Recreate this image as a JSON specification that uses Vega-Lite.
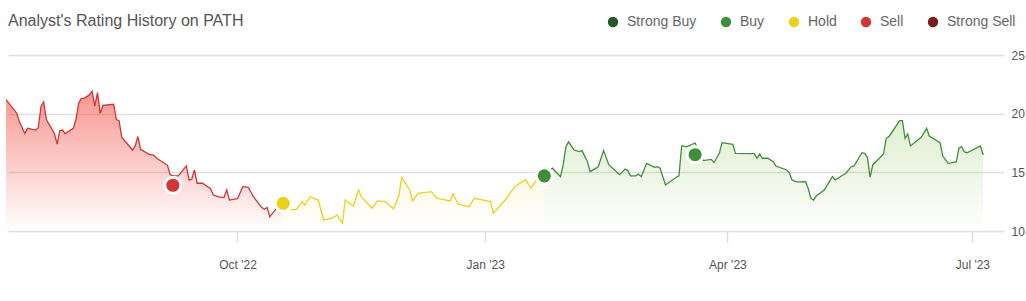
{
  "$schema": "https://vega.github.io/schema/vega-lite/v6.json",
  "width": 996,
  "height": 176,
  "autosize": {"type": "none"},
  "padding": {"left": 8, "top": 55, "right": 22, "bottom": 70},
  "background": "white",
  "title": {
    "text": "Analyst's Rating History on PATH",
    "anchor": "start",
    "frame": "group",
    "font": "Liberation Sans",
    "fontSize": 16,
    "fontWeight": "normal",
    "color": "#555555",
    "baseline": "alphabetic",
    "offset": 5,
    "dy": 32
  },
  "config": {
    "view": {"stroke": null},
    "font": "Liberation Sans"
  },
  "datasets": {
    "price": [
      {"d": "2022-07-07", "p": 21.2, "r": "Sell"},
      {"d": "2022-07-11", "p": 20.04, "r": "Sell"},
      {"d": "2022-07-12", "p": 19.3, "r": "Sell"},
      {"d": "2022-07-13", "p": 18.8, "r": "Sell"},
      {"d": "2022-07-14", "p": 18.3, "r": "Sell"},
      {"d": "2022-07-15", "p": 18.75, "r": "Sell"},
      {"d": "2022-07-18", "p": 18.6, "r": "Sell"},
      {"d": "2022-07-19", "p": 18.8, "r": "Sell"},
      {"d": "2022-07-20", "p": 20.6, "r": "Sell"},
      {"d": "2022-07-21", "p": 21.0, "r": "Sell"},
      {"d": "2022-07-22", "p": 19.5, "r": "Sell"},
      {"d": "2022-07-25", "p": 18.3, "r": "Sell"},
      {"d": "2022-07-26", "p": 17.4, "r": "Sell"},
      {"d": "2022-07-27", "p": 18.55, "r": "Sell"},
      {"d": "2022-07-28", "p": 18.6, "r": "Sell"},
      {"d": "2022-07-29", "p": 18.3, "r": "Sell"},
      {"d": "2022-08-01", "p": 18.75, "r": "Sell"},
      {"d": "2022-08-02", "p": 19.5, "r": "Sell"},
      {"d": "2022-08-03", "p": 20.9, "r": "Sell"},
      {"d": "2022-08-04", "p": 21.3, "r": "Sell"},
      {"d": "2022-08-05", "p": 21.3, "r": "Sell"},
      {"d": "2022-08-07", "p": 21.6, "r": "Sell"},
      {"d": "2022-08-08", "p": 21.9, "r": "Sell"},
      {"d": "2022-08-09", "p": 20.65, "r": "Sell"},
      {"d": "2022-08-10", "p": 21.8, "r": "Sell"},
      {"d": "2022-08-11", "p": 20.03, "r": "Sell"},
      {"d": "2022-08-12", "p": 20.7, "r": "Sell"},
      {"d": "2022-08-16", "p": 20.8, "r": "Sell"},
      {"d": "2022-08-17", "p": 19.5, "r": "Sell"},
      {"d": "2022-08-18", "p": 19.4, "r": "Sell"},
      {"d": "2022-08-19", "p": 18.0, "r": "Sell"},
      {"d": "2022-08-23", "p": 16.9, "r": "Sell"},
      {"d": "2022-08-24", "p": 17.25, "r": "Sell"},
      {"d": "2022-08-25", "p": 18.05, "r": "Sell"},
      {"d": "2022-08-26", "p": 16.97, "r": "Sell"},
      {"d": "2022-08-29", "p": 16.56, "r": "Sell"},
      {"d": "2022-08-31", "p": 16.45, "r": "Sell"},
      {"d": "2022-09-01", "p": 16.2, "r": "Sell"},
      {"d": "2022-09-05", "p": 15.6, "r": "Sell"},
      {"d": "2022-09-06", "p": 14.8, "r": "Sell"},
      {"d": "2022-09-07", "p": 14.7, "r": "Sell"},
      {"d": "2022-09-09", "p": 14.7, "r": "Sell"},
      {"d": "2022-09-12", "p": 15.55, "r": "Sell"},
      {"d": "2022-09-13", "p": 14.35, "r": "Sell"},
      {"d": "2022-09-14", "p": 14.4, "r": "Sell"},
      {"d": "2022-09-15", "p": 15.2, "r": "Sell"},
      {"d": "2022-09-16", "p": 14.07, "r": "Sell"},
      {"d": "2022-09-18", "p": 14.07, "r": "Sell"},
      {"d": "2022-09-21", "p": 13.6, "r": "Sell"},
      {"d": "2022-09-22", "p": 13.07, "r": "Sell"},
      {"d": "2022-09-24", "p": 12.9, "r": "Sell"},
      {"d": "2022-09-26", "p": 12.85, "r": "Sell"},
      {"d": "2022-09-27", "p": 13.5, "r": "Sell"},
      {"d": "2022-09-28", "p": 12.64, "r": "Sell"},
      {"d": "2022-10-01", "p": 12.75, "r": "Sell"},
      {"d": "2022-10-03", "p": 13.78, "r": "Sell"},
      {"d": "2022-10-05", "p": 13.73, "r": "Sell"},
      {"d": "2022-10-07", "p": 12.9, "r": "Sell"},
      {"d": "2022-10-10", "p": 12.0, "r": "Sell"},
      {"d": "2022-10-11", "p": 11.85, "r": "Sell"},
      {"d": "2022-10-12", "p": 12.0, "r": "Sell"},
      {"d": "2022-10-13", "p": 11.2, "r": "Sell"},
      {"d": "2022-10-15", "p": 11.8, "r": "Sell"},
      {"d": "2022-10-18", "p": 12.36, "r": "Sell"},
      {"d": "2022-10-18", "p": 12.36, "r": "Hold"},
      {"d": "2022-10-21", "p": 11.8, "r": "Hold"},
      {"d": "2022-10-23", "p": 11.85, "r": "Hold"},
      {"d": "2022-10-25", "p": 12.5, "r": "Hold"},
      {"d": "2022-10-26", "p": 12.2, "r": "Hold"},
      {"d": "2022-10-28", "p": 12.92, "r": "Hold"},
      {"d": "2022-10-31", "p": 12.64, "r": "Hold"},
      {"d": "2022-11-02", "p": 10.94, "r": "Hold"},
      {"d": "2022-11-05", "p": 11.08, "r": "Hold"},
      {"d": "2022-11-07", "p": 11.36, "r": "Hold"},
      {"d": "2022-11-09", "p": 10.66, "r": "Hold"},
      {"d": "2022-11-10", "p": 12.64, "r": "Hold"},
      {"d": "2022-11-13", "p": 12.13, "r": "Hold"},
      {"d": "2022-11-15", "p": 13.5, "r": "Hold"},
      {"d": "2022-11-16", "p": 12.92, "r": "Hold"},
      {"d": "2022-11-20", "p": 11.94, "r": "Hold"},
      {"d": "2022-11-22", "p": 12.56, "r": "Hold"},
      {"d": "2022-11-25", "p": 12.5, "r": "Hold"},
      {"d": "2022-11-28", "p": 11.88, "r": "Hold"},
      {"d": "2022-11-30", "p": 13.07, "r": "Hold"},
      {"d": "2022-12-01", "p": 14.58, "r": "Hold"},
      {"d": "2022-12-04", "p": 13.5, "r": "Hold"},
      {"d": "2022-12-05", "p": 12.56, "r": "Hold"},
      {"d": "2022-12-07", "p": 13.2, "r": "Hold"},
      {"d": "2022-12-12", "p": 13.35, "r": "Hold"},
      {"d": "2022-12-14", "p": 12.79, "r": "Hold"},
      {"d": "2022-12-19", "p": 12.56, "r": "Hold"},
      {"d": "2022-12-20", "p": 13.15, "r": "Hold"},
      {"d": "2022-12-22", "p": 12.3, "r": "Hold"},
      {"d": "2022-12-26", "p": 12.07, "r": "Hold"},
      {"d": "2022-12-28", "p": 12.79, "r": "Hold"},
      {"d": "2023-01-03", "p": 12.5, "r": "Hold"},
      {"d": "2023-01-04", "p": 11.5, "r": "Hold"},
      {"d": "2023-01-09", "p": 12.79, "r": "Hold"},
      {"d": "2023-01-12", "p": 13.78, "r": "Hold"},
      {"d": "2023-01-16", "p": 14.4, "r": "Hold"},
      {"d": "2023-01-18", "p": 13.64, "r": "Hold"},
      {"d": "2023-01-20", "p": 14.35, "r": "Hold"},
      {"d": "2023-01-23", "p": 14.7, "r": "Hold"},
      {"d": "2023-01-23", "p": 14.7, "r": "Buy"},
      {"d": "2023-01-26", "p": 15.35, "r": "Buy"},
      {"d": "2023-01-29", "p": 14.63, "r": "Buy"},
      {"d": "2023-01-30", "p": 15.63, "r": "Buy"},
      {"d": "2023-01-31", "p": 17.19, "r": "Buy"},
      {"d": "2023-02-01", "p": 17.6, "r": "Buy"},
      {"d": "2023-02-03", "p": 16.9, "r": "Buy"},
      {"d": "2023-02-05", "p": 16.76, "r": "Buy"},
      {"d": "2023-02-06", "p": 16.85, "r": "Buy"},
      {"d": "2023-02-08", "p": 15.9, "r": "Buy"},
      {"d": "2023-02-09", "p": 15.06, "r": "Buy"},
      {"d": "2023-02-12", "p": 15.48, "r": "Buy"},
      {"d": "2023-02-14", "p": 16.85, "r": "Buy"},
      {"d": "2023-02-16", "p": 15.63, "r": "Buy"},
      {"d": "2023-02-20", "p": 14.8, "r": "Buy"},
      {"d": "2023-02-22", "p": 15.27, "r": "Buy"},
      {"d": "2023-02-23", "p": 15.15, "r": "Buy"},
      {"d": "2023-02-24", "p": 14.7, "r": "Buy"},
      {"d": "2023-02-26", "p": 14.7, "r": "Buy"},
      {"d": "2023-02-27", "p": 14.85, "r": "Buy"},
      {"d": "2023-02-28", "p": 14.63, "r": "Buy"},
      {"d": "2023-03-02", "p": 15.77, "r": "Buy"},
      {"d": "2023-03-05", "p": 15.43, "r": "Buy"},
      {"d": "2023-03-06", "p": 15.48, "r": "Buy"},
      {"d": "2023-03-07", "p": 15.35, "r": "Buy"},
      {"d": "2023-03-09", "p": 13.92, "r": "Buy"},
      {"d": "2023-03-13", "p": 14.58, "r": "Buy"},
      {"d": "2023-03-14", "p": 14.7, "r": "Buy"},
      {"d": "2023-03-15", "p": 17.25, "r": "Buy"},
      {"d": "2023-03-17", "p": 17.19, "r": "Buy"},
      {"d": "2023-03-20", "p": 17.5, "r": "Buy"},
      {"d": "2023-03-23", "p": 16.0, "r": "Buy"},
      {"d": "2023-03-26", "p": 16.1, "r": "Buy"},
      {"d": "2023-03-27", "p": 15.82, "r": "Buy"},
      {"d": "2023-03-29", "p": 16.62, "r": "Buy"},
      {"d": "2023-03-30", "p": 17.53, "r": "Buy"},
      {"d": "2023-04-03", "p": 17.39, "r": "Buy"},
      {"d": "2023-04-04", "p": 16.62, "r": "Buy"},
      {"d": "2023-04-11", "p": 16.6, "r": "Buy"},
      {"d": "2023-04-12", "p": 16.2, "r": "Buy"},
      {"d": "2023-04-13", "p": 16.56, "r": "Buy"},
      {"d": "2023-04-14", "p": 16.2, "r": "Buy"},
      {"d": "2023-04-16", "p": 16.2, "r": "Buy"},
      {"d": "2023-04-18", "p": 15.9, "r": "Buy"},
      {"d": "2023-04-19", "p": 15.54, "r": "Buy"},
      {"d": "2023-04-23", "p": 15.2, "r": "Buy"},
      {"d": "2023-04-24", "p": 14.97, "r": "Buy"},
      {"d": "2023-04-25", "p": 14.35, "r": "Buy"},
      {"d": "2023-04-26", "p": 14.26, "r": "Buy"},
      {"d": "2023-04-27", "p": 14.18, "r": "Buy"},
      {"d": "2023-04-30", "p": 14.2, "r": "Buy"},
      {"d": "2023-05-01", "p": 13.64, "r": "Buy"},
      {"d": "2023-05-02", "p": 12.79, "r": "Buy"},
      {"d": "2023-05-03", "p": 12.64, "r": "Buy"},
      {"d": "2023-05-04", "p": 12.98, "r": "Buy"},
      {"d": "2023-05-07", "p": 13.5, "r": "Buy"},
      {"d": "2023-05-10", "p": 14.63, "r": "Buy"},
      {"d": "2023-05-11", "p": 14.35, "r": "Buy"},
      {"d": "2023-05-15", "p": 14.92, "r": "Buy"},
      {"d": "2023-05-17", "p": 15.48, "r": "Buy"},
      {"d": "2023-05-18", "p": 15.54, "r": "Buy"},
      {"d": "2023-05-21", "p": 16.67, "r": "Buy"},
      {"d": "2023-05-22", "p": 16.62, "r": "Buy"},
      {"d": "2023-05-23", "p": 16.28, "r": "Buy"},
      {"d": "2023-05-24", "p": 14.58, "r": "Buy"},
      {"d": "2023-05-25", "p": 15.63, "r": "Buy"},
      {"d": "2023-05-29", "p": 16.56, "r": "Buy"},
      {"d": "2023-05-30", "p": 17.9, "r": "Buy"},
      {"d": "2023-05-31", "p": 18.04, "r": "Buy"},
      {"d": "2023-06-04", "p": 19.4, "r": "Buy"},
      {"d": "2023-06-05", "p": 19.4, "r": "Buy"},
      {"d": "2023-06-06", "p": 17.9, "r": "Buy"},
      {"d": "2023-06-07", "p": 18.27, "r": "Buy"},
      {"d": "2023-06-08", "p": 17.25, "r": "Buy"},
      {"d": "2023-06-12", "p": 17.99, "r": "Buy"},
      {"d": "2023-06-14", "p": 18.75, "r": "Buy"},
      {"d": "2023-06-15", "p": 18.1, "r": "Buy"},
      {"d": "2023-06-19", "p": 17.53, "r": "Buy"},
      {"d": "2023-06-20", "p": 16.39, "r": "Buy"},
      {"d": "2023-06-22", "p": 15.77, "r": "Buy"},
      {"d": "2023-06-25", "p": 15.88, "r": "Buy"},
      {"d": "2023-06-26", "p": 17.05, "r": "Buy"},
      {"d": "2023-06-27", "p": 17.19, "r": "Buy"},
      {"d": "2023-06-28", "p": 16.76, "r": "Buy"},
      {"d": "2023-06-29", "p": 16.67, "r": "Buy"},
      {"d": "2023-07-04", "p": 17.25, "r": "Buy"},
      {"d": "2023-07-05", "p": 16.48, "r": "Buy"}
    ],
    "ratings": [
      {"d": "2022-09-07", "p": 13.9, "rating": "Sell"},
      {"d": "2022-10-18", "p": 12.36, "rating": "Hold"},
      {"d": "2023-01-23", "p": 14.7, "rating": "Buy"},
      {"d": "2023-03-20", "p": 16.5, "rating": "Buy"}
    ]
  },
  "encoding": {
    "x": {
      "field": "d",
      "type": "temporal",
      "title": null,
      "scale": {
        "type": "utc",
        "domain": [
          {"year": 2022, "month": 7, "date": 7, "hours": 18, "utc": true},
          {"year": 2023, "month": 7, "date": 12, "hours": 18, "utc": true}
        ]
      },
      "axis": {
        "values": [
          {"year": 2022, "month": 10, "date": 1, "utc": true},
          {"year": 2023, "month": 1, "date": 1, "utc": true},
          {"year": 2023, "month": 4, "date": 1, "utc": true},
          {"year": 2023, "month": 7, "date": 1, "utc": true}
        ],
        "format": "%b '%y",
        "grid": false,
        "domain": false,
        "ticks": true,
        "tickSize": 11,
        "tickColor": "#dddddd",
        "tickWidth": 1.5,
        "labelFont": "Liberation Sans",
        "labelFontSize": 12,
        "labelColor": "#555555",
        "labelPadding": 17,
        "labelFlush": false
      }
    },
    "y": {
      "field": "p",
      "type": "quantitative",
      "title": null,
      "scale": {"domain": [10, 25], "zero": false, "nice": false},
      "axis": {
        "orient": "right",
        "values": [10, 15, 20, 25],
        "grid": true,
        "gridColor": "#e0e0e0",
        "gridWidth": 1.5,
        "domain": false,
        "ticks": false,
        "labelFont": "Liberation Sans",
        "labelFontSize": 12,
        "labelColor": "#555555",
        "labelPadding": 7
      }
    }
  },
  "layer": [
    {
      "data": {"name": "price"},
      "transform": [{"filter": "datum.r === 'Sell'"}],
      "mark": {
        "type": "area",
        "fill": {
          "gradient": "linear",
          "x1": 0, "y1": 0, "x2": 0, "y2": 1,
          "stops": [
            {"offset": 0, "color": "rgba(245,80,70,0.6)"},
            {"offset": 1, "color": "rgba(245,80,70,0)"}
          ]
        }
      },
      "encoding": {"y2": {"datum": 10}}
    },
    {
      "data": {"name": "price"},
      "transform": [{"filter": "datum.r === 'Hold'"}],
      "mark": {
        "type": "area",
        "fill": {
          "gradient": "linear",
          "x1": 0, "y1": 0, "x2": 0, "y2": 1,
          "stops": [
            {"offset": 0, "color": "rgba(240,205,60,0.13)"},
            {"offset": 1, "color": "rgba(240,205,60,0)"}
          ]
        }
      },
      "encoding": {"y2": {"datum": 10}}
    },
    {
      "data": {"name": "price"},
      "transform": [{"filter": "datum.r === 'Buy'"}],
      "mark": {
        "type": "area",
        "fill": {
          "gradient": "linear",
          "x1": 0, "y1": 0, "x2": 0, "y2": 1,
          "stops": [
            {"offset": 0, "color": "rgba(130,190,70,0.26)"},
            {"offset": 1, "color": "rgba(130,190,70,0)"}
          ]
        }
      },
      "encoding": {"y2": {"datum": 10}}
    },
    {
      "data": {"name": "price"},
      "mark": {"type": "line", "strokeWidth": 1.3},
      "encoding": {
        "stroke": {
          "field": "r",
          "type": "nominal",
          "scale": {
            "domain": ["Buy", "Hold", "Sell"],
            "range": ["#3f8f3a", "#e8d21c", "#d13636"]
          },
          "legend": null
        }
      }
    },
    {
      "data": {"name": "ratings"},
      "mark": {"type": "circle", "size": 260, "opacity": 1, "stroke": "white", "strokeWidth": 3},
      "encoding": {
        "fill": {
          "field": "rating",
          "type": "nominal",
          "scale": {
            "domain": ["Strong Buy", "Buy", "Hold", "Sell", "Strong Sell"],
            "range": ["#235a24", "#3f8f3a", "#e8d21c", "#d13636", "#7a1c1e"]
          },
          "legend": {
            "orient": "none",
            "legendX": 598,
            "legendY": -40,
            "direction": "horizontal",
            "title": null,
            "symbolType": "circle",
            "symbolSize": 108,
            "symbolStrokeWidth": 0,
            "symbolOpacity": 1,
            "labelFont": "Liberation Sans",
            "labelFontSize": 14,
            "labelColor": "#666666",
            "labelOffset": 7,
            "columnPadding": 22,
            "padding": 0
          }
        }
      }
    }
  ]
}
